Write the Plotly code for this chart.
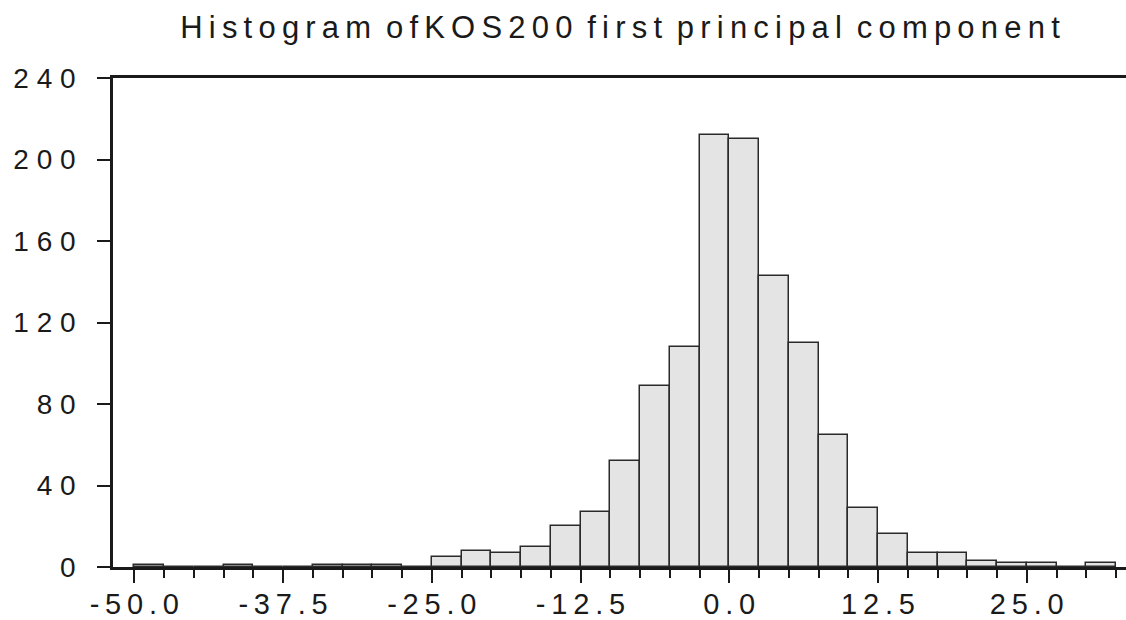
import numpy as np
import plotly.graph_objects as go

# Histogram of the first principal component: bin start, bin width, counts
bin_start = -50.0
bin_width = 2.5
counts = [1, 0, 0, 1, 0, 0, 1, 1, 1, 0,
          5, 8, 7, 10, 20, 27, 52, 89, 108, 212,
          210, 143, 110, 65, 29, 16, 7, 7, 3, 2,
          2, 0, 2]

x_tick_values = [-50.0, -37.5, -25.0, -12.5, 0.0, 12.5, 25.0]
x_tick_labels = ["-50.0", "-37.5", "-25.0", "-12.5", "0.0", "12.5", "25.0"]
y_tick_values = [0, 40, 80, 120, 160, 200, 240]
y_tick_labels = ["0", "40", "80", "120", "160", "200", "240"]

title_words = ["Histogram", "of", "KOS200", "first", "principal", "component"]

NB = "\u00a0"      # no-break space
THIN = "\u2009"    # thin space


def spaced(s, gap=NB):
    """Letter-spaced text, the way the old chart renderer set it."""
    return gap.join(s)


word_gap = NB + THIN
title_text = (spaced(title_words[0], THIN) + word_gap
              + spaced(title_words[1], THIN) + THIN
              + spaced(title_words[2], THIN) + word_gap
              + word_gap.join(spaced(w, THIN) for w in title_words[3:]))

centers = bin_start + bin_width * (np.arange(len(counts)) + 0.5)

FONT = "Liberation Sans, Arial, sans-serif"
INK = "#1a1a1a"

fig = go.Figure(
    go.Bar(
        x=centers,
        y=counts,
        width=bin_width,
        marker=dict(color="#e4e4e4", line=dict(color="#2a2a2a", width=1.5)),
        hoverinfo="x+y",
    )
)

fig.update_layout(
    width=1126,
    height=620,
    margin=dict(l=113, r=0, t=78, b=47),
    paper_bgcolor="white",
    plot_bgcolor="white",
    showlegend=False,
    bargap=0,
    font=dict(family=FONT, color=INK, size=28),
    title=dict(
        text=title_text,
        font=dict(family=FONT, size=31, color=INK),
        xref="container", yref="container",
        x=620 / 1126, xanchor="center",
        y=1 - 27 / 620, yanchor="middle",
    ),
)

fig.update_xaxes(
    range=[-51.79, 33.34],
    showgrid=False,
    zeroline=False,
    showline=True,
    linecolor=INK,
    linewidth=2.5,
    mirror=True,
    tickmode="array",
    tickvals=x_tick_values,
    ticktext=[spaced(t, THIN) for t in x_tick_labels],
    ticks="outside",
    ticklen=13,
    tickwidth=1.5,
    tickcolor=INK,
    ticklabelstandoff=-4,
    tickfont=dict(family=FONT, size=29, color=INK),
    minor=dict(tick0=bin_start, dtick=bin_width, ticks="outside",
               ticklen=8, tickwidth=1.5, tickcolor=INK, showgrid=False),
)

fig.update_yaxes(
    range=[0, 240],
    showgrid=False,
    zeroline=False,
    showline=True,
    linecolor=INK,
    linewidth=2.5,
    mirror=False,
    tickmode="array",
    tickvals=y_tick_values,
    ticktext=[spaced(t) for t in y_tick_labels],
    ticks="outside",
    ticklen=13,
    tickwidth=1.5,
    tickcolor=INK,
    ticklabelstandoff=16,
    tickfont=dict(family=FONT, size=28, color=INK),
)

fig.write_html("out.html")
